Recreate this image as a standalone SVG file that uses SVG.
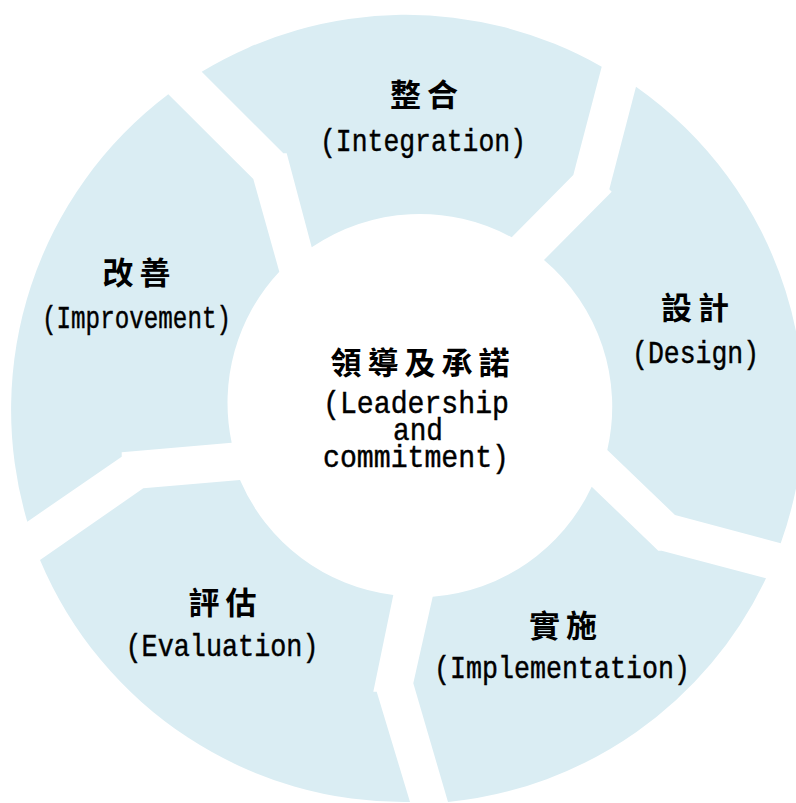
<svg xmlns="http://www.w3.org/2000/svg" width="796" height="803" viewBox="0 0 796 803">
<style>
.seg { fill: #DAEDF3; }
.zh { font-family: "Noto Sans CJK TC", "Noto Sans CJK SC", sans-serif; font-weight: 700; font-size: 31px; letter-spacing: 6px; text-anchor: middle; fill: #000; }
.en { font-family: "Liberation Mono", "DejaVu Sans Mono", monospace; font-size: 32px; text-anchor: middle; fill: #000; stroke: #000; stroke-width: 0.45px; }
</style>
<rect width="796" height="803" fill="#FFFFFF"/>
<g id="integration">
<path class="seg" d="M201.7,71.7 A395,395 0 0 1 601.7,66.7 L573.3,175 L511.7,237.3 A192,192 0 0 0 311.7,247.3 L286.7,153.3 L283.3,153.3 Z"/>
<text class="zh" x="427" y="106">整合</text>
<text class="en" x="423" y="151" textLength="206" lengthAdjust="spacingAndGlyphs">(Integration)</text>
</g>
<g id="design">
<path class="seg" d="M636,86.7 A395,395 0 0 1 780.7,543.3 L675,515 L607.3,450 A192,192 0 0 0 544,260 L611.7,191.7 L609.3,189.3 Z"/>
<text class="zh" x="698" y="319">設計</text>
<text class="en" x="695.5" y="363" textLength="127" lengthAdjust="spacingAndGlyphs">(Design)</text>
</g>
<g id="implementation">
<path class="seg" d="M766,578.3 A395,395 0 0 1 448,802 L413.3,683.3 L432.7,596.7 A192,192 0 0 0 591.7,486.7 L658.3,550.7 L661.7,550.7 Z"/>
<text class="zh" x="566" y="637">實施</text>
<text class="en" x="562" y="678" textLength="256" lengthAdjust="spacingAndGlyphs">(Implementation)</text>
</g>
<g id="evaluation">
<path class="seg" d="M410,802 A395,395 0 0 1 40,560 L143.3,488.3 L240,480 A192,192 0 0 0 393.3,595 L373.3,691.7 L376.7,691.7 Z"/>
<text class="zh" x="225.5" y="614">評估</text>
<text class="en" x="222" y="656" textLength="193" lengthAdjust="spacingAndGlyphs">(Evaluation)</text>
</g>
<g id="improvement">
<path class="seg" d="M27.3,521.7 A395,395 0 0 1 168.3,94.3 L253.3,179 L279.3,271.7 A192,192 0 0 0 231.7,442.7 L121.7,452.3 L121.7,456.7 Z"/>
<text class="zh" x="139.5" y="284">改善</text>
<text class="en" x="136.5" y="328" font-size="29" textLength="189" lengthAdjust="spacingAndGlyphs">(Improvement)</text>
</g>
<g id="leadership">
<text class="zh" x="423" y="374" letter-spacing="7">領導及承諾</text>
<text class="en" font-size="26"><tspan x="416" y="413" textLength="186" lengthAdjust="spacingAndGlyphs">(Leadership</tspan><tspan x="418" y="440" textLength="50" lengthAdjust="spacingAndGlyphs">and</tspan><tspan x="416" y="467" textLength="186" lengthAdjust="spacingAndGlyphs">commitment)</tspan></text>
</g>
</svg>
